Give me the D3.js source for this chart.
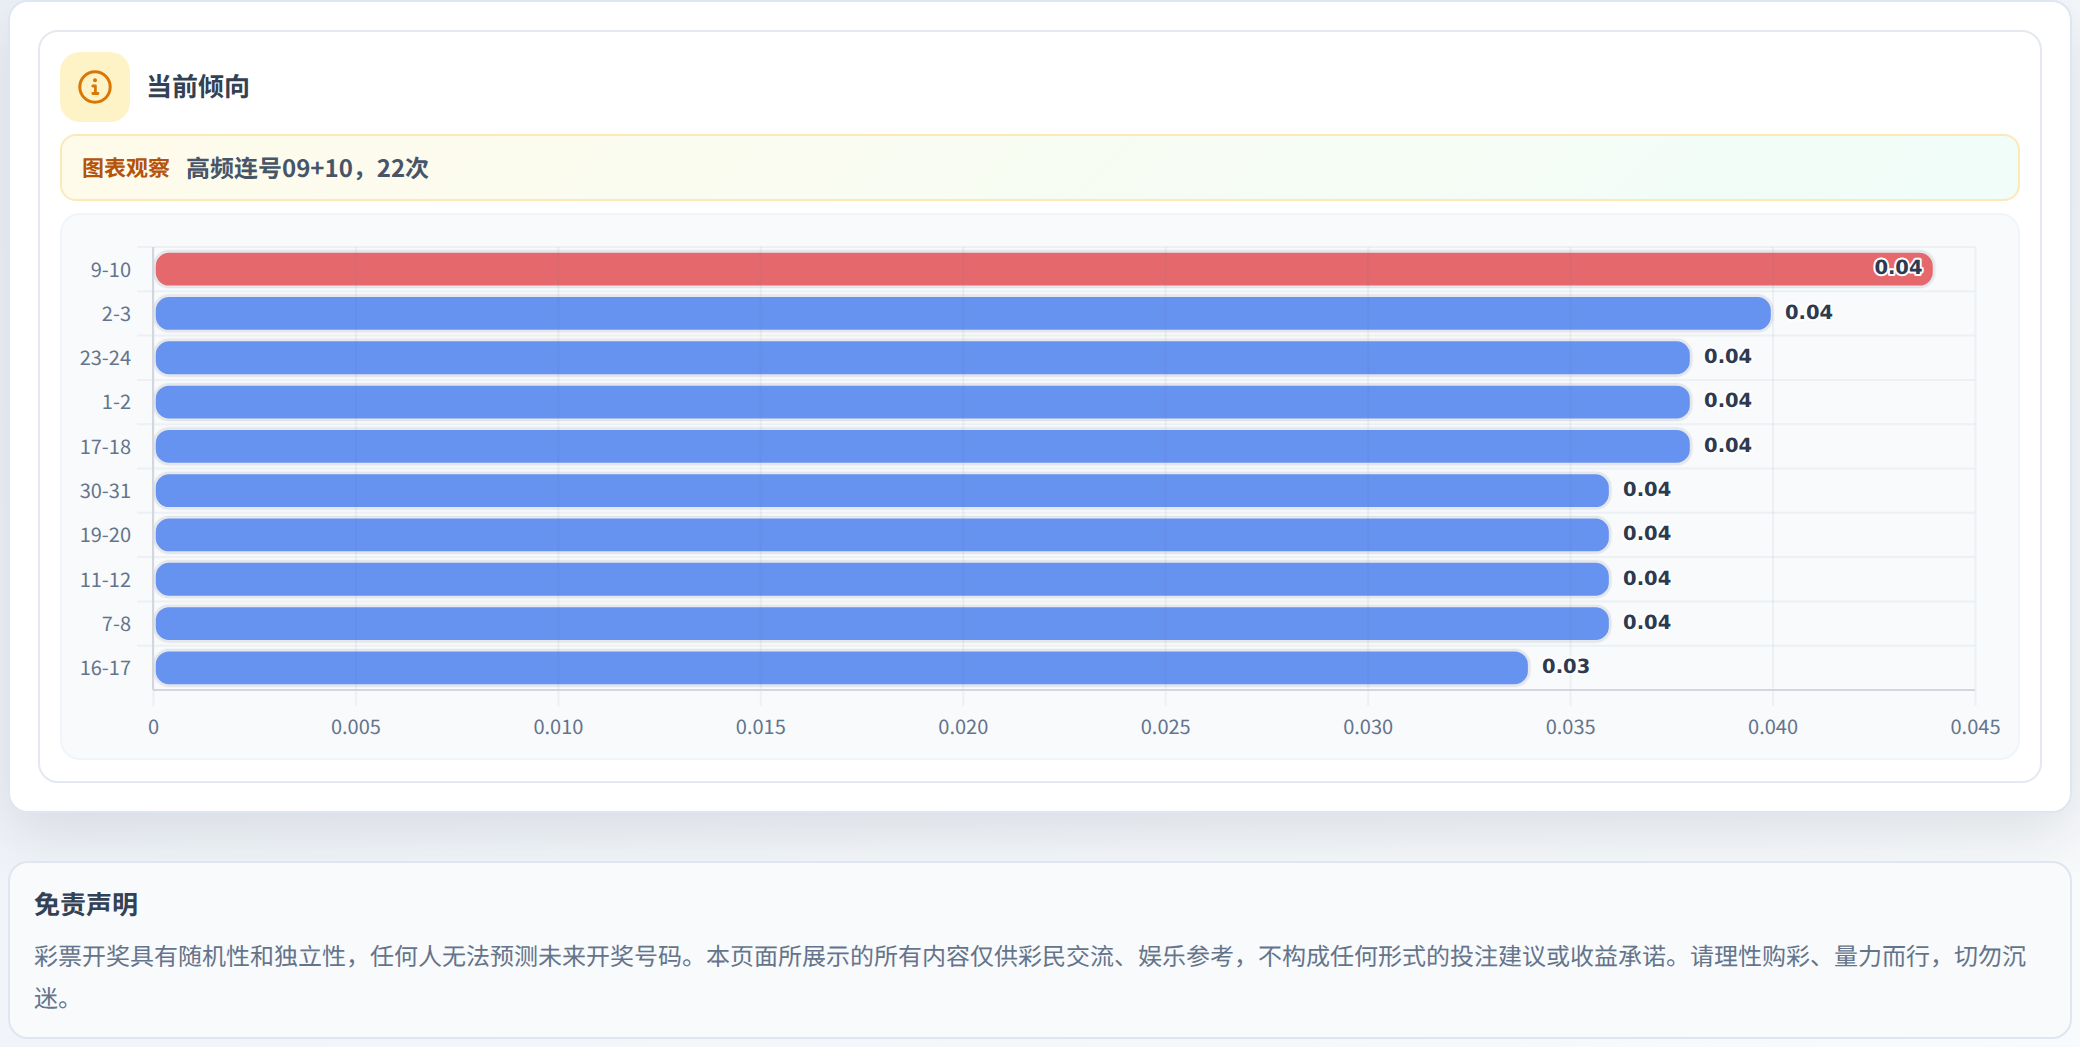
<!DOCTYPE html>
<html>
<head>
<meta charset="utf-8">
<script src="https://cdn.jsdelivr.net/npm/d3@7/dist/d3.min.js"></script>
<style>
  * { box-sizing: border-box; }
  html, body { margin: 0; padding: 0; }
  body {
    width: 2080px; height: 1047px; overflow: hidden; position: relative;
    background: linear-gradient(135deg, #edf1f7 0%, #f8fafc 100%);
    font-family: "Noto Sans CJK SC", sans-serif;
    text-rendering: geometricPrecision;
  }
  .outer {
    position: absolute; left: 8px; top: 0; width: 2064px; height: 813px;
    background: #fff; border: 2px solid #dfe6f1; border-radius: 20px;
    box-shadow: 0 20px 60px rgba(30, 41, 59, .12);
  }
  .inner {
    position: absolute; left: 38px; top: 30px; width: 2004px; height: 753px;
    background: #fff; border: 2px solid #e3e8f1; border-radius: 20px;
  }
  .icon {
    position: absolute; left: 60px; top: 52px; width: 70px; height: 70px;
    background: #fef3c7; border-radius: 20px;
  }
  .title {
    position: absolute; left: 146px; top: 51px; line-height: 70px;
    font-size: 26px; font-weight: 700; color: #334155;
  }
  .callout {
    position: absolute; left: 60px; top: 134px; width: 1960px; height: 67px;
    border: 2px solid #fde9b8; border-radius: 16px;
    background: linear-gradient(135deg, #fffbeb 0%, #f0fdf9 100%);
    line-height: 62px; font-weight: 700;
  }
  .callout .tag { position: absolute; left: 20px; color: #b45309; font-size: 22px; }
  .callout .txt { position: absolute; left: 124px; color: #475569; font-size: 24px; }
  .panel {
    position: absolute; left: 60px; top: 213px; width: 1960px; height: 547px;
    background: #f8fafc; border: 2px solid #f1f5f9; border-radius: 20px;
  }
  #chart { position: absolute; left: 0; top: 0; }
  .note {
    position: absolute; left: 8px; top: 861px; width: 2064px; height: 178px;
    background: #f8fafc; border: 2px solid #dfe6f1; border-radius: 20px;
    padding: 0 24px;
  }
  .note h3 {
    margin: 23px 0 0; font-size: 26px; line-height: 36px; font-weight: 700; color: #334155;
  }
  .note p {
    margin: 12px 0 0; font-size: 24px; line-height: 42px; color: #64748b;
  }
</style>
</head>
<body>
<div class="outer"></div>
<div class="inner"></div>
<div class="icon">
  <svg width="70" height="70" viewBox="0 0 70 70">
    <circle cx="35" cy="35" r="15.2" fill="none" stroke="#d97706" stroke-width="3"></circle>
    <circle cx="35" cy="28.3" r="2" fill="#d97706"></circle>
    <path d="M32.8 34h2.6v7.5M32.8 41.5h5.2" fill="none" stroke="#d97706" stroke-width="2.8" stroke-linecap="round" stroke-linejoin="round"></path>
  </svg>
</div>
<div class="title">当前倾向</div>
<div class="callout"><span class="tag">图表观察</span><span class="txt">高频连号09+10，22次</span></div>
<div class="panel"></div>
<svg id="chart" width="2080" height="1047"></svg>
<div class="note">
  <h3>免责声明</h3>
  <p>彩票开奖具有随机性和独立性，任何人无法预测未来开奖号码。本页面所展示的所有内容仅供彩民交流、娱乐参考，不构成任何形式的投注建议或收益承诺。请理性购彩、量力而行，切勿沉迷。</p>
</div>
<script>
const categories = ["9-10", "2-3", "23-24", "1-2", "17-18", "30-31", "19-20", "11-12", "7-8", "16-17"];
const values = [0.044, 0.04, 0.038, 0.038, 0.038, 0.036, 0.036, 0.036, 0.036, 0.034];
const xTicks = [0, 0.005, 0.01, 0.015, 0.02, 0.025, 0.03, 0.035, 0.04, 0.045];
const highlight = "9-10";

const left = 153, right = 1975, top_ = 247, bottom = 690;
const gridColor = "rgba(100, 116, 139, 0.07)";

const svg = d3.select("#chart");

const x = d3.scaleLinear().domain([0, 0.045]).range([left, right]);
const y = d3.scaleBand().domain(categories).range([top_, bottom]);

// row lines, one at each band edge
svg.append("g").selectAll("line")
  .data(categories)
  .join("line")
  .attr("x1", left - 16).attr("x2", right)
  .attr("y1", d => y(d)).attr("y2", d => y(d))
  .attr("stroke", gridColor).attr("stroke-width", 2);

// y axis labels
const yAxis = d3.axisLeft(y).tickSize(0).tickPadding(22);
const yGroup = svg.append("g").attr("transform", `translate(${left}, 1)`).call(yAxis);
yGroup.select(".domain").remove();
yGroup.selectAll(".tick text")
  .style("font-family", '"Noto Sans CJK SC"').style("font-size", "20px").attr("fill", "#64748b");

const defs = svg.append("defs");
const shadow = defs.append("filter").attr("id", "barShadow")
  .attr("x", "-2%").attr("y", "-30%").attr("width", "104%").attr("height", "160%");
shadow.append("feDropShadow").attr("dx", 0).attr("dy", 0).attr("stdDeviation", 1)
  .attr("flood-color", "#475569").attr("flood-opacity", 0.4);

const rowData = categories.map((c, i) => ({ cat: c, val: values[i] }));

svg.append("g").selectAll("rect")
  .data(rowData)
  .join("rect")
  .attr("x", x(0) + 2)
  .attr("y", d => y(d.cat) + 5)
  .attr("width", d => x(d.val) - x(0) - 3)
  .attr("height", y.bandwidth() - 10)
  .attr("rx", 14)
  .attr("fill", d => d.cat === highlight ? "#e5696c" : "#6692f0")
  .attr("stroke", "#e6e8ed").attr("stroke-width", 1.5)
  .attr("filter", "url(#barShadow)");

// the vertical grid sits on top of the bars, you can see it through them
const xAxis = d3.axisBottom(x).tickValues(xTicks)
  .tickFormat(d => d === 0 ? "0" : d.toFixed(3))
  .tickSize(0).tickPadding(0);

const xGroup = svg.append("g")
  .attr("transform", `translate(0, ${bottom})`)
  .call(xAxis);
xGroup.select(".domain").remove();
xGroup.selectAll(".tick line").attr("y2", -(bottom - top_)).attr("y1", 16)
  .attr("stroke", gridColor).attr("stroke-width", 2);
xGroup.selectAll(".tick text")
  .attr("y", 37).attr("dy", "0.35em")
  .style("font-family", '"Noto Sans CJK SC"').style("font-size", "20px").attr("fill", "#64748b");

// axis lines
svg.append("line").attr("x1", left).attr("x2", left).attr("y1", top_).attr("y2", bottom)
  .attr("stroke", "#d3d6de").attr("stroke-width", 2);
svg.append("line").attr("x1", left).attr("x2", right).attr("y1", bottom).attr("y2", bottom)
  .attr("stroke", "#d3d6de").attr("stroke-width", 2);

// value labels: outside the bar except for the longest, which sits inside
svg.append("g").selectAll("text")
  .data(rowData)
  .join("text")
  .attr("x", d => d.cat === highlight ? x(d.val) - 12 : x(d.val) + 12.5)
  .attr("y", d => y(d.cat) + y.bandwidth() / 2 - 1.5)
  .attr("dy", "0.35em")
  .attr("text-anchor", d => d.cat === highlight ? "end" : "start")
  .style("font-family", '"DejaVu Sans"').style("font-weight", "bold").style("font-size", "19.5px")
  .attr("fill", "#2d3a4f")
  .attr("stroke", "#ffffff").attr("stroke-width", 4).attr("stroke-linejoin", "round")
  .attr("paint-order", "stroke")
  .text(d => d.val.toFixed(2));
</script>
</body>
</html>
